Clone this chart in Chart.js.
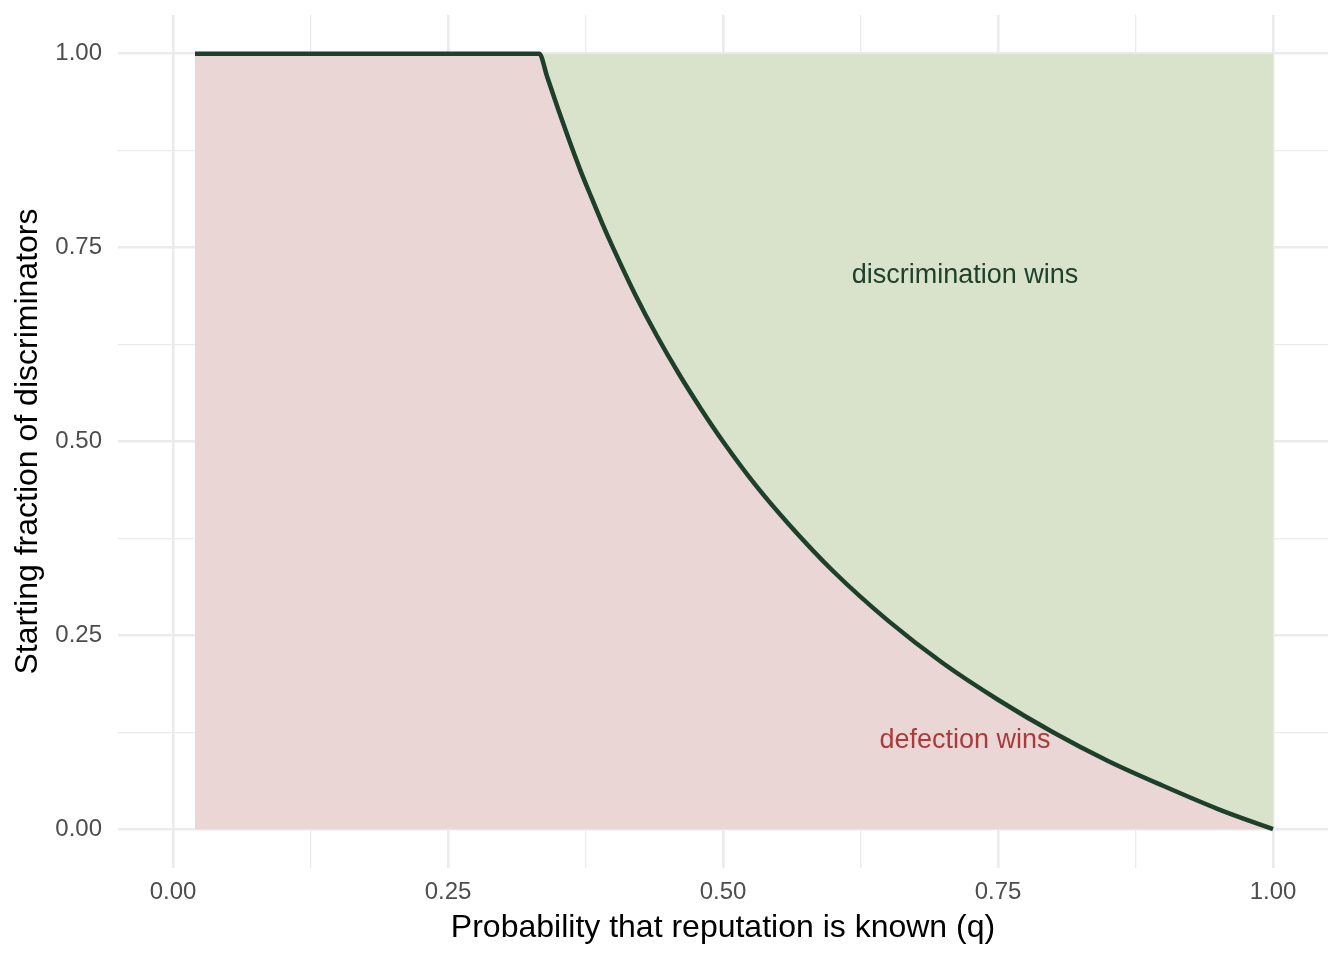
<!DOCTYPE html>
<html>
<head>
<meta charset="utf-8">
<script src="https://cdn.jsdelivr.net/npm/chart.js@4"></script>
<style>
  body { margin: 0; background: #ffffff; }
  #wrap { width: 1344px; height: 960px; }
</style>
</head>
<body>
<div id="wrap"><canvas id="boundaryChart"></canvas></div>
<script>
// q = probabilité que la réputation soit connue, y = fraction de départ des discriminateurs
const curveX = [0.02, 0.333, 0.34, 0.35, 0.36, 0.37, 0.38, 0.39, 0.40, 0.42, 0.44, 0.46, 0.48, 0.50, 0.53, 0.56, 0.60, 0.65, 0.70, 0.75, 0.80, 0.85, 0.90, 0.95, 1.00];
const curveY = [1.00, 1.00, 0.971, 0.929, 0.889, 0.851, 0.816, 0.782, 0.750, 0.690, 0.636, 0.587, 0.542, 0.500, 0.443, 0.393, 0.333, 0.269, 0.214, 0.167, 0.125, 0.088, 0.056, 0.026, 0.000];

// bord supérieur de la zone verte
const topX = [0.02, 1.00];
const topY = [1.00, 1.00];

const tickValues = [0, 0.125, 0.25, 0.375, 0.5, 0.625, 0.75, 0.875, 1];
const majorTicks = [0, 0.25, 0.5, 0.75, 1];

const regionLabels = [
    { text: 'discrimination wins', x: 0.72, y: 0.714, color: '#1F4029' },
    { text: 'defection wins', x: 0.72, y: 0.114, color: '#A83C3C' }
];

const FONT = "'Liberation Sans', Arial, Helvetica, sans-serif";

const isMajor = v => majorTicks.some(m => Math.abs(m - v) < 1e-9);

const regionLabelPlugin = {
    id: 'regionLabels',
    afterDatasetsDraw(chart) {
        const { ctx, scales } = chart;
        ctx.save();
        ctx.font = `27px ${FONT}`;
        ctx.textAlign = 'center';
        ctx.textBaseline = 'middle';
        regionLabels.forEach(lbl => {
            ctx.fillStyle = lbl.color;
            ctx.fillText(lbl.text, scales.x.getPixelForValue(lbl.x), scales.y.getPixelForValue(lbl.y));
        });
        ctx.restore();
    }
};

function gridOptions() {
    return {
        drawTicks: false,
        color: '#EBEBEB',
        lineWidth: (c) => isMajor(c.tick.value) ? 2.6 : 1.3
    };
}

function setTicks(scale) {
    scale.ticks = tickValues.map(v => ({ value: v }));
}

function fixSize(scale) {
    if (scale.isHorizontal()) {
        scale.height = 92;
        scale.paddingLeft = 0;
        scale.paddingRight = 0;
    } else {
        scale.width = 118;
        scale.paddingTop = 0;
        scale.paddingBottom = 0;
    }
}

new Chart(document.getElementById('boundaryChart').getContext('2d'), {
    type: 'line',
    data: {
        datasets: [
            {
                label: 'boundary',
                data: curveX.map((x, i) => ({ x: x, y: curveY[i] })),
                borderColor: '#1E3F29',
                borderWidth: 4.5,
                backgroundColor: '#EBD6D6',
                fill: 'origin',
                pointRadius: 0,
                cubicInterpolationMode: 'monotone'
            },
            {
                label: 'top',
                data: topX.map((x, i) => ({ x: x, y: topY[i] })),
                borderWidth: 0,
                borderColor: 'rgba(0,0,0,0)',
                backgroundColor: '#D9E2CB',
                fill: 0,
                pointRadius: 0
            }
        ]
    },
    options: {
        responsive: true,
        maintainAspectRatio: false,
        animation: false,
        layout: { padding: { left: 0, right: 16, top: 15, bottom: 0 } },
        plugins: {
            legend: { display: false },
            tooltip: { enabled: false }
        },
        scales: {
            x: {
                type: 'linear',
                min: -0.05,
                max: 1.05,
                afterBuildTicks: setTicks,
                afterFit: fixSize,
                grid: gridOptions(),
                border: { display: false },
                ticks: {
                    autoSkip: false,
                    maxRotation: 0,
                    padding: 10,
                    color: '#4D4D4D',
                    font: { family: FONT, size: 24 },
                    callback: (v) => isMajor(v) ? v.toFixed(2) : ''
                },
                title: {
                    display: true,
                    text: 'Probability that reputation is known (q)',
                    color: '#000000',
                    font: { family: FONT, size: 32 },
                    padding: { top: 0, bottom: 13 }
                }
            },
            y: {
                type: 'linear',
                min: -0.05,
                max: 1.05,
                afterBuildTicks: setTicks,
                afterFit: fixSize,
                grid: gridOptions(),
                border: { display: false },
                ticks: {
                    autoSkip: false,
                    padding: 16,
                    color: '#4D4D4D',
                    font: { family: FONT, size: 24 },
                    callback: (v) => isMajor(v) ? v.toFixed(2) : ''
                },
                title: {
                    display: true,
                    text: 'Starting fraction of discriminators',
                    color: '#000000',
                    font: { family: FONT, size: 32 },
                    padding: { top: 9, bottom: 0 }
                }
            }
        }
    },
    plugins: [regionLabelPlugin]
});
</script>
</body>
</html>
